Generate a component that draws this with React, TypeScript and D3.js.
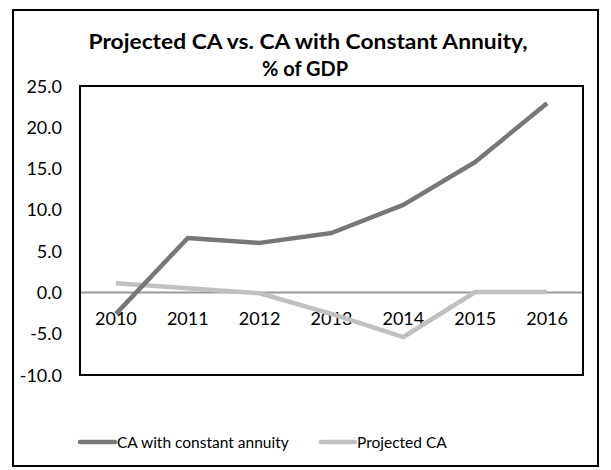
import React from "react";
import * as d3 from "d3";

const years = ["2010", "2011", "2012", "2013", "2014", "2015", "2016"];
const caConstantAnnuity = [-2.6, 6.6, 6.0, 7.2, 10.6, 15.8, 22.9];
const projectedCA = [1.1, 0.5, -0.1, -2.6, -5.4, 0.05, 0.05];
const yTicks = [25, 20, 15, 10, 5, 0, -5, -10];
const seriesNames = ["CA with constant annuity", "Projected CA"];

const W = 611, H = 470;
const plot = { left: 80, right: 583, top: 86, bottom: 375 };
const font = "Lato, 'Open Sans', sans-serif";
const darkC = "#777777";
const lightC = "#c0c0c0";

export default function App() {
  const x = d3.scaleBand().domain(years).range([plot.left, plot.right]);
  const y = d3.scaleLinear().domain([-10, 25]).range([plot.bottom, plot.top]);
  const cx = (d: string) => (x(d) as number) + x.bandwidth() / 2;
  const line = d3
    .line<number>()
    .x((_, i) => cx(years[i]))
    .y((v) => y(v));

  return (
    <svg width={W} height={H} style={{ position: "absolute", left: 0, top: 0 }}>
      <rect x={0} y={0} width={W} height={H} fill="#fff" />
      <rect x={13} y={10} width={585} height={456} fill="none" stroke="#000" strokeWidth={2} />
      <text x={308} y={49} textAnchor="middle" fontFamily={font} fontWeight="bold" fontSize={20}
        textLength={439} lengthAdjust="spacingAndGlyphs">
        Projected CA vs. CA with Constant Annuity,
      </text>
      <text x={305} y={76} textAnchor="middle" fontFamily={font} fontWeight="bold" fontSize={20}
        textLength={86} lengthAdjust="spacingAndGlyphs">
        % of GDP
      </text>
      {yTicks.map((t) => (
        <text key={t} x={62} y={y(t) + 6.5} textAnchor="end" fontFamily={font} fontSize={18}>
          {t.toFixed(1)}
        </text>
      ))}
      <line x1={plot.left} x2={plot.right} y1={y(0)} y2={y(0)} stroke="#999" strokeWidth={2} />
      {years.map((yr) => (
        <text key={yr} x={cx(yr)} y={y(0) + 33} textAnchor="middle" fontFamily={font} fontSize={18}>
          {yr}
        </text>
      ))}
      <path d={line(projectedCA) as string} fill="none" stroke={lightC} strokeWidth={4.5} strokeLinejoin="round" />
      <path d={line(caConstantAnnuity) as string} fill="none" stroke={darkC} strokeWidth={4.5} strokeLinejoin="round" />
      <rect
        x={plot.left}
        y={plot.top}
        width={plot.right - plot.left}
        height={plot.bottom - plot.top}
        fill="none"
        stroke="#000"
        strokeWidth={2}
      />
      <line x1={80} x2={115} y1={442} y2={442} stroke={darkC} strokeWidth={4.5} strokeLinecap="round" />
      <text x={117} y={448} fontFamily={font} fontSize={15.5}>{seriesNames[0]}</text>
      <line x1={321} x2={355} y1={442} y2={442} stroke={lightC} strokeWidth={4.5} strokeLinecap="round" />
      <text x={357} y={448} fontFamily={font} fontSize={15.5}>{seriesNames[1]}</text>
    </svg>
  );
}
